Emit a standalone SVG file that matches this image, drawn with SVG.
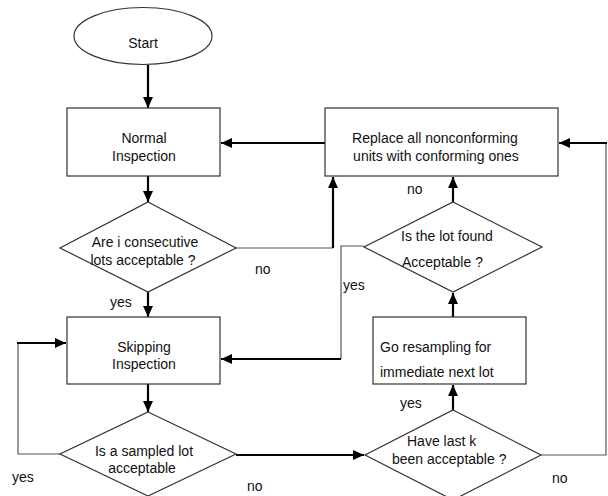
<svg xmlns="http://www.w3.org/2000/svg" width="608" height="496" viewBox="0 0 608 496">
<style>
.shape{fill:#fff;stroke:#333;stroke-width:1.2}
.t{font-family:"Liberation Sans",Arial,sans-serif;font-size:14px;fill:#111}
.m{text-anchor:middle}
.thick{fill:none;stroke:#000;stroke-width:2.2}
.thin{fill:none;stroke:#555;stroke-width:1.2}
</style>
<defs>
<marker id="ah" markerUnits="userSpaceOnUse" markerWidth="12" markerHeight="10" refX="11" refY="5" orient="auto">
<path d="M0,0 L11,5 L0,10 Z" fill="#000"/>
</marker>
</defs>
<rect width="608" height="496" fill="#fff"/>
<g id="connectors">
<path class="thick" d="M148,65 V108" marker-end="url(#ah)"/>
<path class="thick" d="M148,176 V202" marker-end="url(#ah)"/>
<path class="thick" d="M148,292 V317" marker-end="url(#ah)"/>
<path class="thick" d="M148,384 V412" marker-end="url(#ah)"/>
<path class="thick" d="M325,143 H221" marker-end="url(#ah)"/>
<path class="thin" d="M236,248 H333"/>
<path class="thick" d="M333,248 V177" marker-end="url(#ah)"/>
<path class="thin" d="M60,454 H18 V343"/>
<path class="thick" d="M17,343 H66" marker-end="url(#ah)"/>
<path class="thick" d="M236,455 H364" marker-end="url(#ah)"/>
<path class="thin" d="M541,455 H606 V143"/>
<path class="thick" d="M607,143 H559" marker-end="url(#ah)"/>
<path class="thick" d="M453,410 V385" marker-end="url(#ah)"/>
<path class="thick" d="M453,317 V293" marker-end="url(#ah)"/>
<path class="thick" d="M453,202 V177" marker-end="url(#ah)"/>
<path class="thin" d="M364,246 H341 V359"/>
<path class="thick" d="M341,359 H221" marker-end="url(#ah)"/>
</g>
<g id="start">
<ellipse class="shape" cx="143" cy="36" rx="69" ry="28.5"/>
<text class="t m" x="143" y="48">Start</text>
</g>
<g id="normal">
<rect class="shape" x="67" y="108" width="153" height="68"/>
<text class="t m" x="144" y="143">Normal</text>
<text class="t m" x="144" y="161">Inspection</text>
</g>
<g id="consecutive">
<polygon class="shape" points="148,202 236,248 148,292 60,248"/>
<text class="t m" x="145" y="247">Are i consecutive</text>
<text class="t m" x="143" y="265">lots acceptable ?</text>
</g>
<g id="skipping">
<rect class="shape" x="67" y="317" width="153" height="67"/>
<text class="t m" x="144" y="352">Skipping</text>
<text class="t m" x="144" y="369">Inspection</text>
</g>
<g id="sampled">
<polygon class="shape" points="148,412 236,454 148,496 60,454"/>
<text class="t m" x="144" y="456">Is a sampled lot</text>
<text class="t m" x="142" y="473">acceptable</text>
</g>
<g id="replace">
<rect class="shape" x="325" y="108" width="233" height="68"/>
<text class="t m" x="435" y="143">Replace all nonconforming</text>
<text class="t m" x="436" y="161">units with conforming ones</text>
</g>
<g id="found">
<polygon class="shape" points="453,202 542,247 453,292 364,247"/>
<text class="t" x="401" y="241">Is the lot found</text>
<text class="t" x="402" y="267">Acceptable ?</text>
</g>
<g id="resampling">
<rect class="shape" x="373" y="317" width="153" height="67"/>
<text class="t" x="380" y="352">Go resampling for</text>
<text class="t" x="380" y="377">immediate next lot</text>
</g>
<g id="lastk">
<polygon class="shape" points="453,410 541,455 453,500 365,455"/>
<text class="t" x="407" y="446">Have last k</text>
<text class="t" x="392" y="464">been acceptable ?</text>
</g>
<g id="labels">
<text class="t" x="255" y="274">no</text>
<text class="t" x="110" y="307">yes</text>
<text class="t" x="407" y="194">no</text>
<text class="t" x="343" y="290">yes</text>
<text class="t" x="400" y="408">yes</text>
<text class="t" x="12" y="482">yes</text>
<text class="t" x="247" y="491">no</text>
<text class="t" x="552" y="483">no</text>
</g>
</svg>
